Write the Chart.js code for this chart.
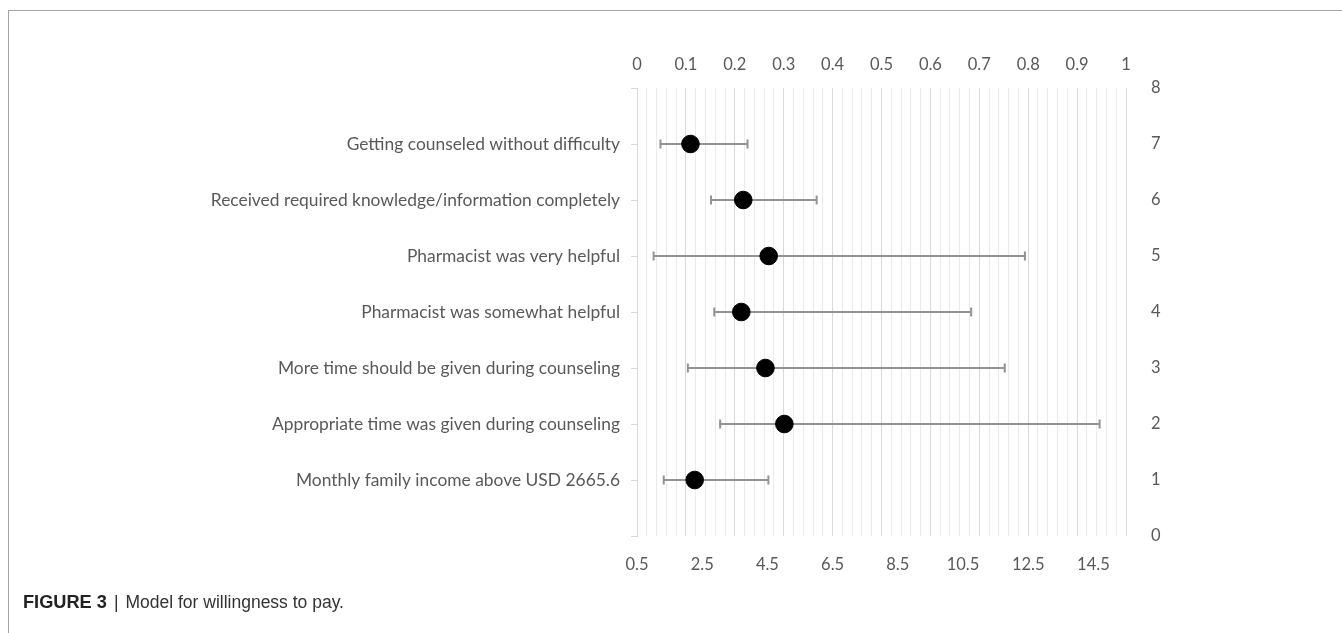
<!DOCTYPE html>
<html>
<head>
<meta charset="utf-8">
<script src="https://cdn.jsdelivr.net/npm/chart.js@4/dist/chart.umd.min.js"></script>
<style>
  html, body { margin: 0; padding: 0; background: #fff; }
  body { width: 1342px; height: 633px; position: relative; overflow: hidden; }
  #frame {
    position: absolute; left: 8px; top: 10px; right: 0; bottom: 0;
    border-top: 1px solid #a3a3a3; border-left: 1px solid #a3a3a3;
  }
  #wrap { position: absolute; left: 0; top: 0; width: 1342px; height: 633px; }
  #caption {
    position: absolute; left: 23px; top: 592px;
    font-family: "Liberation Sans", Arial, sans-serif; font-size: 17.5px;
    color: #333; white-space: nowrap; line-height: 20px;
  }
  #caption b { color: #222; font-size: 18.2px; }
  #caption .sep { margin: 0 7px 0 7px; }
</style>
</head>
<body>
<div id="frame"></div>
<div id="wrap"><canvas id="c" width="1342" height="633"></canvas></div>
<div id="caption"><b>FIGURE 3</b><span class="sep">|</span>Model for willingness to pay.</div>
<script>
// Predictors, listed top to bottom
const categories = [
  "Getting counseled without difficulty",
  "Received required knowledge/information completely",
  "Pharmacist was very helpful",
  "Pharmacist was somewhat helpful",
  "More time should be given during counseling",
  "Appropriate time was given during counseling",
  "Monthly family income above USD 2665.6"
];
// Odds ratios with lower / upper confidence limits (same order)
const oddsRatio = [2.14, 3.76, 4.54, 3.70, 4.44, 5.02, 2.27];
const ciLower   = [1.22, 2.77, 1.01, 2.87, 2.06, 3.05, 1.32];
const ciUpper   = [3.89, 6.01, 12.40, 10.75, 11.78, 14.69, 4.53];

// Axis tick labels
const bottomTicks = [0.5, 2.5, 4.5, 6.5, 8.5, 10.5, 12.5, 14.5];
const topTicks = [0, 0.1, 0.2, 0.3, 0.4, 0.5, 0.6, 0.7, 0.8, 0.9, 1];
const rightTicks = [0, 1, 2, 3, 4, 5, 6, 7, 8];

const rowY = categories.map((_, i) => categories.length - i);
const points = oddsRatio.map((v, i) => ({ x: v, y: rowY[i] }));

const FONT = { family: "Lato, 'Open Sans', sans-serif", size: 16.5 };
const CAT_FONT = { family: "Lato, 'Open Sans', sans-serif", size: 17.4 };
const TXT = '#595959';

// Horizontal confidence-interval whiskers with end caps
const errorBars = {
  id: 'errorBars',
  beforeDatasetsDraw(chart) {
    const { ctx } = chart;
    const xs = chart.scales.x, ys = chart.scales.y;
    ctx.save();
    ctx.strokeStyle = '#939393';
    ctx.lineWidth = 2;
    const cap = 4.5;
    for (let i = 0; i < oddsRatio.length; i++) {
      const y = ys.getPixelForValue(rowY[i]);
      const x0 = xs.getPixelForValue(ciLower[i]);
      const x1 = xs.getPixelForValue(ciUpper[i]);
      ctx.beginPath();
      ctx.moveTo(x0, y); ctx.lineTo(x1, y);
      ctx.moveTo(x0, y - cap); ctx.lineTo(x0, y + cap);
      ctx.moveTo(x1, y - cap); ctx.lineTo(x1, y + cap);
      ctx.stroke();
    }
    ctx.restore();
  }
};

new Chart(document.getElementById('c'), {
  type: 'scatter',
  data: {
    datasets: [{
      data: points,
      backgroundColor: '#000',
      borderColor: '#000',
      pointRadius: 8.8,
      pointHoverRadius: 8.8,
      xAxisID: 'x',
      yAxisID: 'y'
    }]
  },
  options: {
    responsive: false,
    animation: false,
    events: [],
    layout: { padding: 0, autoPadding: false },
    plugins: { legend: { display: false }, tooltip: { enabled: false } },
    scales: {
      x: {
        type: 'linear', position: 'bottom', min: 0.5, max: 15.5,
        afterBuildTicks: s => { s.ticks = bottomTicks.map(v => ({ value: v })); },
        afterFit: s => { s.height = 633 - 536; },
        grid: { display: false },
        border: { display: false },
        ticks: { font: FONT, color: TXT, padding: 11, maxRotation: 0, autoSkip: false,
                 callback: v => String(v) }
      },
      x2: {
        type: 'linear', position: 'top', min: 0, max: 1,
        afterBuildTicks: s => {
          const t = [];
          for (let i = 0; i <= 50; i++) t.push({ value: i / 50 });
          s.ticks = t;
        },
        afterFit: s => { s.height = 88; },
        grid: {
          drawTicks: false,
          color: c => (c.index % 5 === 0 ? '#d9d9d9' : '#ebebeb'),
          lineWidth: 1
        },
        border: { display: false },
        ticks: {
          font: FONT, color: TXT, padding: 13, maxRotation: 0, autoSkip: false,
          callback: (v, i) => (i % 5 === 0 ? String(topTicks[i / 5]) : '')
        }
      },
      y: {
        type: 'linear', position: 'left', min: 0, max: 8,
        afterBuildTicks: s => { s.ticks = rightTicks.map(v => ({ value: v })); },
        afterFit: s => { s.width = 637; },
        grid: { drawOnChartArea: false, drawTicks: true, tickLength: 6, color: '#d9d9d9' },
        border: { display: true, color: '#d9d9d9' },
        ticks: {
          font: CAT_FONT, color: TXT, padding: 11,
          callback: v => {
            const i = rowY.indexOf(v);
            return i >= 0 ? categories[i] : '';
          }
        }
      },
      y2: {
        type: 'linear', position: 'right', min: 0, max: 8,
        afterBuildTicks: s => { s.ticks = rightTicks.map(v => ({ value: v })); },
        afterFit: s => { s.width = 1342 - 1126; },
        grid: { display: false },
        border: { display: false },
        ticks: { font: FONT, color: TXT, padding: 17, callback: v => String(v) }
      }
    }
  },
  plugins: [errorBars]
});
</script>
</body>
</html>
